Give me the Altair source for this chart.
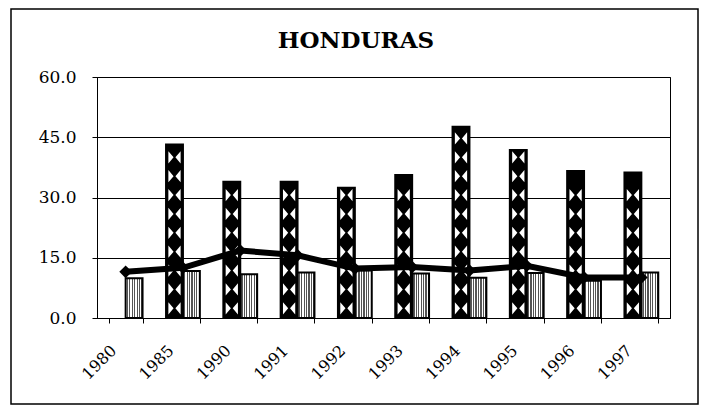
import altair as alt
import pandas as pd

years = ["1980", "1985", "1990", "1991", "1992", "1993", "1994", "1995", "1996", "1997"]
tall_values = [0.0, 43.2, 33.9, 33.9, 32.4, 35.6, 47.6, 41.8, 36.6, 36.2]
small_values = [9.9, 11.7, 10.9, 11.3, 11.8, 11.1, 10.0, 11.2, 9.3, 11.3]
line_values = [11.5, 12.5, 16.8, 15.6, 12.3, 12.7, 11.8, 13.0, 10.1, 10.1]
y_ticks = [0, 15, 30, 45, 60]
title_text = "HONDURAS"

FONT = "DejaVu Serif"

rows = []
for y, t, s in zip(years, tall_values, small_values):
    rows.append({"year": y, "series": "tall", "value": t})
    rows.append({"year": y, "series": "small", "value": s})
bars_df = pd.DataFrame(rows)
line_df = pd.DataFrame({"year": years, "value": line_values})

x_enc = alt.X(
    "year:N",
    sort=years,
    title=None,
    scale=alt.Scale(paddingInner=0.41, paddingOuter=0.205),
    axis=alt.Axis(
        labelAngle=-45,
        labelAlign="right",
        labelBaseline="top",
        labelFont=FONT,
        labelFontSize=16,
        labelColor="black",
        labelPadding=19,
        labelOffset=-18,
        tickBand="extent",
        tickSize=5,
        tickColor="black",
        domainColor="black",
        grid=False,
    ),
)
y_enc = alt.Y(
    "value:Q",
    title=None,
    scale=alt.Scale(domain=[0, 60], nice=False),
    axis=alt.Axis(
        values=y_ticks,
        format=".1f",
        labelFont=FONT,
        labelFontSize=17,
        labelColor="black",
        labelPadding=16,
        tickSize=5,
        tickColor="black",
        domainColor="black",
        gridColor="black",
        gridOpacity=1,
        gridWidth=1,
    ),
)
xoff = alt.XOffset("series:N", scale=alt.Scale(domain=["tall", "small"], paddingInner=0, paddingOuter=0))

base = alt.Chart(bars_df)

stripe_stops = []
n = 7
for i in range(n):
    a = i / n
    b = (i + 0.5) / n
    c = (i + 1) / n
    stripe_stops += [
        alt.GradientStop(offset=a, color="#ffffff"),
        alt.GradientStop(offset=b, color="#ffffff"),
        alt.GradientStop(offset=b, color="#555555"),
        alt.GradientStop(offset=c, color="#555555"),
    ]

small_bars = base.transform_filter("datum.series == 'small'").mark_bar(
    stroke="black", strokeWidth=2,
    fill=alt.Gradient(gradient="linear", stops=stripe_stops, x1=0, x2=1, y1=0, y2=0),
).encode(x=x_enc, xOffset=xoff, y=y_enc)

tall_bars = base.transform_filter("datum.series == 'tall' && datum.value > 0").mark_bar(
    fill="black", stroke="black", strokeWidth=2
).encode(x=x_enc, xOffset=xoff, y=y_enc)

bowties = base.transform_filter("datum.series == 'tall' && datum.value > 0").transform_calculate(
    pos="sequence(2.4, datum.value - 1.5, 4.7)"
).transform_flatten(["pos"]).mark_point(
    shape="M-1,-1L-0.15,0L-1,1Z M1,-1L0.15,0L1,1Z",
    filled=True, fill="white", stroke=None, opacity=1, size=150,
).encode(x=x_enc, xOffset=xoff, y=alt.Y("pos:Q", scale=alt.Scale(domain=[0, 60], nice=False)))

line = alt.Chart(line_df).mark_line(color="black", strokeWidth=6).encode(
    x=x_enc, y=y_enc
)
points = alt.Chart(line_df).mark_point(
    shape="diamond", filled=True, color="black", opacity=1, size=160
).encode(x=x_enc, y=y_enc)

one = alt.Data(values=[{"t": title_text}])
title = alt.Chart(one).mark_text(
    font=FONT, fontSize=23, fontWeight="bold", color="black", align="center", baseline="alphabetic"
).encode(text="t:N", x=alt.value(259), y=alt.value(-29))

frame = alt.Chart(one).mark_rect(fill=None, stroke="black", strokeWidth=1.5).encode(
    x=alt.value(-86), x2=alt.value(601), y=alt.value(-68), y2=alt.value(327)
)

chart = alt.layer(small_bars, tall_bars, bowties, line, points, title, frame).properties(
    width=573,
    height=241,
    autosize=alt.AutoSizeParams(type="none"),
    padding={"left": 89, "right": 30, "top": 69, "bottom": 88},
    background="white",
).configure_view(stroke="black", strokeWidth=1)

chart.save("out.html", embed_options={"renderer": "svg", "actions": False})
